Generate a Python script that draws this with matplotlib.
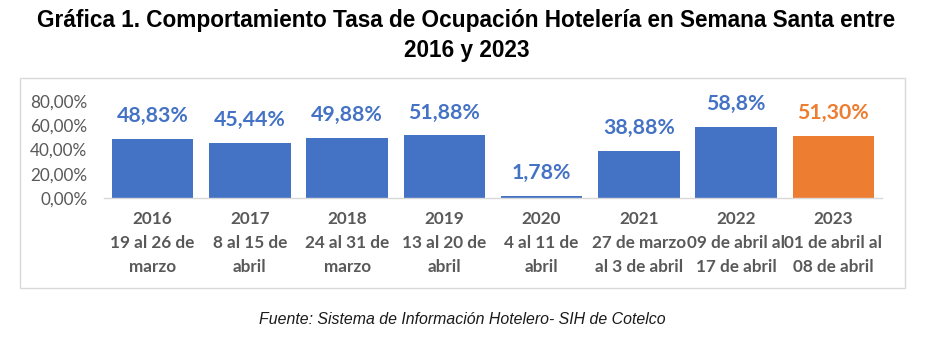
import matplotlib
matplotlib.use("Agg")
import matplotlib.pyplot as plt
from matplotlib.patches import Rectangle

years = ["2016", "2017", "2018", "2019", "2020", "2021", "2022", "2023"]
periods = [
    "19 al 26 de\nmarzo",
    "8 al 15 de\nabril",
    "24 al 31 de\nmarzo",
    "13 al 20 de\nabril",
    "4 al 11 de\nabril",
    "27 de marzo\nal 3 de abril",
    "09 de abril al\n17 de abril",
    "01 de abril al\n08 de abril",
]
occupancy = [48.83, 45.44, 49.88, 51.88, 1.78, 38.88, 58.8, 51.30]
value_labels = ["48,83%", "45,44%", "49,88%", "51,88%", "1,78%", "38,88%", "58,8%", "51,30%"]
y_ticks = [0, 20, 40, 60, 80]

BLUE = "#4472C4"
ORANGE = "#ED7D31"
GRAY = "#595959"
colors = [BLUE] * (len(years) - 1) + [ORANGE]

fig = plt.figure(figsize=(9.33, 3.43), dpi=100)
fig.patch.set_facecolor("white")

# chart frame
fig.add_artist(Rectangle((20 / 933, 1 - 288 / 343), (905 - 20) / 933, (288 - 78) / 343,
                         transform=fig.transFigure, fill=False, edgecolor="#D9D9D9", lw=1.0))

ax = fig.add_axes([104 / 933, 1 - 198 / 343, (882 - 104) / 933, (198 - 101) / 343])
x = list(range(len(years)))
bars = ax.bar(x, occupancy, width=0.84, color=colors, zorder=2)

for xi, v, lab, c in zip(x, occupancy, value_labels, colors):
    ax.annotate(lab, (xi, v), xytext=(0, 9), textcoords="offset points",
                ha="center", va="bottom", fontsize=15.3, fontweight="bold",
                color=c, family="Lato", annotation_clip=False)

ax.set_xlim(-0.5, len(years) - 0.5)
ax.set_ylim(0, 80)
ax.set_yticks(y_ticks)
ax.set_yticklabels([f"{t:.2f}%".replace(".", ",") for t in y_ticks],
                   fontsize=12.3, color=GRAY, family="Lato")
ax.set_xticks(x)
ax.set_xticklabels([f"{y}\n{p}" for y, p in zip(years, periods)],
                   fontsize=12.3, fontweight="bold", color=GRAY, family="Lato",
                   linespacing=1.65)
ax.tick_params(axis="both", length=0)
ax.tick_params(axis="x", pad=9)
ax.tick_params(axis="y", pad=12)
for side in ["top", "right", "left"]:
    ax.spines[side].set_visible(False)
ax.spines["bottom"].set_color("#D9D9D9")
ax.spines["bottom"].set_linewidth(1.0)

fig.text(0.5, 1 - 21 / 343, "Gráfica 1. Comportamiento Tasa de Ocupación Hotelería en Semana Santa entre",
         ha="center", va="center", fontsize=16.3, fontweight="bold", family="Liberation Sans", color="black")
fig.text(0.5, 1 - 50 / 343, "2016 y 2023",
         ha="center", va="center", fontsize=16.3, fontweight="bold", family="Liberation Sans", color="black")
fig.text(462 / 933, 1 - 320 / 343, "Fuente: Sistema de Información Hotelero- SIH de Cotelco",
         ha="center", va="center", fontsize=11.4, style="italic", family="Liberation Sans", color="#1a1a1a")

fig.savefig("out.png", dpi=100)
